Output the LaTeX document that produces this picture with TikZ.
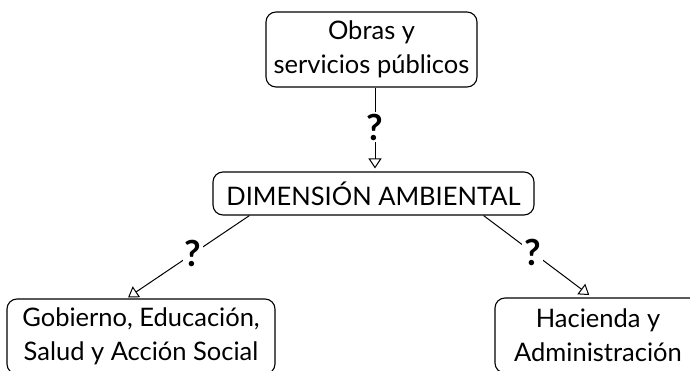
\documentclass[tikz,border=0pt]{standalone}
\usepackage{fontspec}
\setmainfont{Lato}
\usetikzlibrary{arrows.meta}
\usetikzlibrary{positioning}

\tikzset{
  concept/.style={draw,rounded corners=10pt,align=center,inner sep=0pt,line width=1.1pt,
    font=\fontsize{25.5}{34}\selectfont},
  link/.style={-{Triangle[open,length=10pt,width=13pt]},line width=1pt},
  qmark/.style={fill=white,inner sep=2pt,font=\fontsize{36}{36}\selectfont\bfseries}
}

\begin{document}
\begin{tikzpicture}[x=1pt,y=-1pt]
\useasboundingbox (0,0) rectangle (690,371);

\node[concept,minimum width=211pt,minimum height=75pt] (obras) at (371.5,49.5) {Obras y\\servicios públicos};
\node[concept,minimum width=321pt,minimum height=43pt] (dim) at (373.5,193.5) {DIMENSIÓN AMBIENTAL};
\node[concept,minimum width=268pt,minimum height=75pt] (gob) at (141,336.5) {Gobierno, Educación,\\Salud y Acción Social};
\node[concept,minimum width=206pt,minimum height=75pt] (hac) at (598,335.5) {Hacienda y\\Administración};

\draw[link,shorten >=3pt] ([xshift=3.5pt]obras.south) -- node[qmark,pos=0.47]{?} ([xshift=1.5pt]dim.north);
\draw[link,shorten >=2pt] ([xshift=37pt]dim.south west) -- node[qmark,pos=0.46]{?} ([xshift=120pt]gob.north west);
\draw[link,shorten >=4pt] ([xshift=-51pt]dim.south east) -- node[qmark,pos=0.45]{?} ([xshift=98pt]hac.north west);
\end{tikzpicture}
\end{document}
